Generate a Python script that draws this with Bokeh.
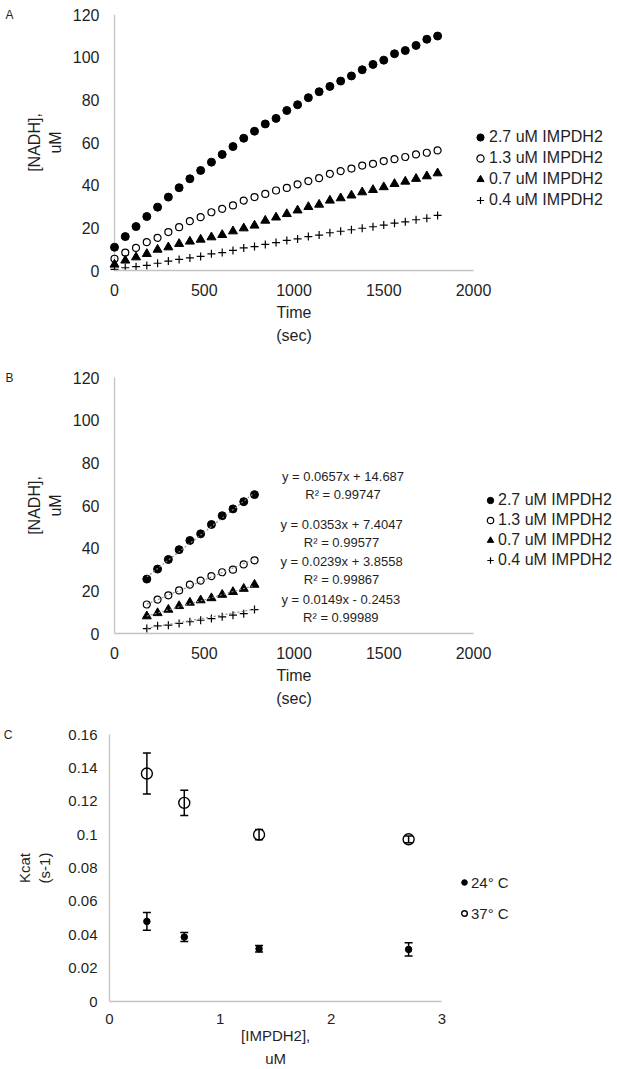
from bokeh.plotting import figure
from bokeh.models import (ColumnDataSource, FixedTicker, Legend, LegendItem, LinearAxis,
                          Whisker, TeeHead, Range1d, Span)
from bokeh.embed import file_html
from bokeh.resources import INLINE
from bokeh.core.properties import value

# ---------------- data ----------------
series_labels = ["2.7 uM IMPDH2", "1.3 uM IMPDH2", "0.7 uM IMPDH2", "0.4 uM IMPDH2"]

# Panel A: full time course (sec)
time_a = [0, 60, 120, 180, 240, 300, 360, 420, 480, 540, 600, 660, 720, 780, 840, 900,
          960, 1020, 1080, 1140, 1200, 1260, 1320, 1380, 1440, 1500, 1560, 1620, 1680, 1740, 1800]
nadh_27_a = [10.9, 15.9, 20.6, 25.3, 29.7, 34.4, 38.8, 43.0, 46.9, 50.8, 54.4, 58.1, 62.0, 65.3, 68.7, 71.3,
             75.0, 77.7, 81.0, 83.8, 86.3, 88.8, 91.2, 94.1, 96.6, 98.6, 101.6, 103.1, 105.5, 108.4, 109.9]
nadh_13_a = [5.5, 8.4, 10.6, 13.3, 15.3, 18.0, 20.3, 23.1, 25.0, 27.3, 28.9, 30.5, 32.8, 34.4, 35.9, 37.5,
             38.7, 40.4, 41.9, 43.3, 45.3, 46.6, 47.8, 49.2, 50.0, 51.3, 52.2, 53.2, 54.4, 55.2, 56.3]
nadh_07_a = [2.8, 4.7, 6.2, 7.8, 9.8, 10.9, 12.5, 13.6, 14.5, 15.6, 16.7, 18.4, 19.8, 21.1, 23.4, 24.9,
             26.5, 28.2, 29.8, 30.9, 32.8, 33.9, 35.2, 36.7, 37.8, 39.1, 40.6, 41.7, 43.0, 44.2, 45.6]
nadh_04_a = [0.5, 1.3, 1.8, 2.4, 3.4, 4.4, 5.2, 5.9, 6.6, 7.8, 8.4, 9.4, 10.6, 11.2, 12.2, 13.1,
             14.1, 14.8, 15.9, 16.6, 17.7, 18.4, 19.1, 19.8, 20.5, 21.3, 22.2, 22.8, 23.8, 24.5, 25.8]

# Panel B: linear window (sec)
time_b = [180, 240, 300, 360, 420, 480, 540, 600, 660, 720, 780]
nadh_27_b = [25.5, 30.2, 34.7, 39.3, 43.6, 46.7, 51.1, 55.2, 58.4, 61.8, 65.1]
nadh_13_b = [13.6, 15.9, 17.9, 20.2, 22.9, 24.8, 26.9, 28.7, 29.9, 32.4, 34.3]
nadh_07_b = [8.1, 9.6, 11.2, 12.9, 14.5, 15.6, 16.6, 18.2, 19.5, 21.0, 22.9]
nadh_04_b = [2.3, 3.6, 3.9, 4.7, 5.5, 6.2, 7.0, 7.8, 8.6, 9.3, 11.2]
fit_slope = [0.0657, 0.0353, 0.0239, 0.0149]
fit_intercept = [14.687, 7.4047, 3.8558, -0.2453]
fit_r2 = ["0.99747", "0.99577", "0.99867", "0.99989"]

# Panel C: kcat vs enzyme concentration
conc_c = [0.3375, 0.675, 1.35, 2.7]
kcat_24 = [0.0480, 0.0386, 0.0316, 0.0312]
err_24 = [0.0053, 0.0027, 0.0020, 0.0040]
kcat_37 = [0.1366, 0.1190, 0.1000, 0.0972]
err_37 = [0.0123, 0.0076, 0.0030, 0.0020]
temp_labels = ["24° C", "37° C"]

# tick labels and axis titles
ticks_time = [0, 500, 1000, 1500, 2000]
ticklab_time = ["0", "500", "1000", "1500", "2000"]
ticks_nadh = [0, 20, 40, 60, 80, 100, 120]
ticklab_nadh = ["0", "20", "40", "60", "80", "100", "120"]
ticks_conc = [0, 1, 2, 3]
ticklab_conc = ["0", "1", "2", "3"]
ticks_kcat = [0, 0.02, 0.04, 0.06, 0.08, 0.1, 0.12, 0.14, 0.16]
ticklab_kcat = ["0", "0.02", "0.04", "0.06", "0.08", "0.1", "0.12", "0.14", "0.16"]
xtitle_time = ["Time", "(sec)"]
xtitle_conc = ["[IMPDH2],", "uM"]
panel_names = ["A", "B", "C"]

# ---------------- style / layout ----------------
FONT = "Liberation Sans"
TXT = "#1f1f1f"
AXC = "#c3c3c3"
W = 617

# page geometry (pixels) of each plot frame
A_X0, A_X2000, A_TOP, A_BOT = 114, 473, 14, 270
B_X0, B_X2000 = 114, 473
C_X0, C_X3 = 108, 441


def make_fig(height, left, top, bottom, xr, yr):
    p = figure(width=W, height=height, x_range=xr, y_range=yr,
               output_backend="svg", toolbar_location=None,
               min_border_left=left, min_border_right=0,
               min_border_top=top, min_border_bottom=bottom)
    p.xgrid.visible = False
    p.ygrid.visible = False
    p.outline_line_color = None
    return p


def plain(ax, fs, standoff):
    ax.axis_line_color = AXC
    ax.axis_line_width = 1.3
    ax.major_tick_line_color = None
    ax.minor_tick_line_color = None
    ax.major_tick_in = 0
    ax.major_tick_out = 0
    ax.minor_tick_in = 0
    ax.minor_tick_out = 0
    ax.major_label_text_font = FONT
    ax.major_label_text_font_size = fs
    ax.major_label_text_color = TXT
    ax.major_label_standoff = standoff


def style_axis(ax, ticks, labels, lab_standoff, fs="16px"):
    ax.ticker = FixedTicker(ticks=ticks)
    ax.major_label_overrides = {t: l for t, l in zip(ticks, labels)}
    plain(ax, fs, lab_standoff)


def y_title(ax, title, standoff, fs="16px"):
    ax.axis_label = title
    ax.axis_label_text_font = FONT
    ax.axis_label_text_font_size = fs
    ax.axis_label_text_font_style = "normal"
    ax.axis_label_text_color = TXT
    ax.axis_label_standoff = standoff


def text_axis(p, side, pos, txt, standoff, fs):
    ax = LinearAxis(ticker=FixedTicker(ticks=[pos]), major_label_overrides={pos: txt})
    plain(ax, fs, standoff)
    ax.axis_line_color = None
    p.add_layout(ax, side)


def add_series(p, xs, ys):
    r1 = p.scatter(xs, ys[0], marker="circle", size=8, fill_color="black", line_color="black")
    r2 = p.scatter(xs, ys[1], marker="circle", size=7, fill_color=None, line_color="black", line_width=1.2)
    r3 = p.scatter(xs, ys[2], marker="triangle", size=9, fill_color="black", line_color="black")
    r4 = p.scatter(xs, ys[3], marker="cross", size=8, line_color="black", line_width=1.2)
    return [r1, r2, r3, r4]


def add_legend(p, renderers, labels, loc, spacing, gw, fs="16px"):
    leg = Legend(items=[LegendItem(label=l, renderers=[r]) for l, r in zip(labels, renderers)],
                 location=loc, orientation="vertical",
                 glyph_width=gw, glyph_height=18, label_height=18, spacing=spacing,
                 label_standoff=0, padding=0, margin=0,
                 border_line_color=None, background_fill_alpha=0,
                 label_text_font=FONT, label_text_font_size=fs, label_text_color=TXT)
    p.add_layout(leg, "center")
    return leg


# ---------------- panel A ----------------
sa = (A_X2000 - A_X0) / ticks_time[-1]          # px per second
a_left = A_X0 - 8
pa = make_fig(356, a_left, A_TOP, 356 - A_BOT,
              Range1d(-(A_X0 - a_left) / sa, (W - A_X0) / sa), Range1d(0, 120))
style_axis(pa.xaxis[0], ticks_time, ticklab_time, 13)
pa.xaxis[0].bounds = (ticks_time[0], ticks_time[-1])
style_axis(pa.yaxis[0], ticks_nadh, ticklab_nadh, 7)
y_title(pa.yaxis[0], "[NADH],\nuM", 6)
pa.yaxis[0].axis_line_color = None
pa.add_layout(Span(location=0, dimension="height", line_color=AXC, line_width=1.3, level="underlay"))
rA = add_series(pa, time_a, [nadh_27_a, nadh_13_a, nadh_07_a, nadh_04_a])
add_legend(pa, rA, series_labels, (365, 61), 3, 18)
mid_t = (ticks_time[0] + ticks_time[-1]) / 2
text_axis(pa, "below", mid_t, xtitle_time[0], 5, "16px")
text_axis(pa, "below", mid_t, xtitle_time[1], 3, "16px")
text_axis(pa, "left", ticks_nadh[-1], panel_names[0], 10, "12px")

# ---------------- panel B ----------------
sb = (B_X2000 - B_X0) / ticks_time[-1]
pb = make_fig(356, B_X0, 21, 79, Range1d(0, (W - B_X0) / sb), Range1d(0, 120))
style_axis(pb.xaxis[0], ticks_time, ticklab_time, 13)
pb.xaxis[0].bounds = (ticks_time[0], ticks_time[-1])
style_axis(pb.yaxis[0], ticks_nadh, ticklab_nadh, 15)
y_title(pb.yaxis[0], "[NADH],\nuM", 6)
rB = add_series(pb, time_b, [nadh_27_b, nadh_13_b, nadh_07_b, nadh_04_b])
fit_x0, fit_x1 = min(time_b), max(time_b)
pb.multi_line(xs=[[fit_x0, fit_x1] for _ in fit_slope],
              ys=[[s * fit_x0 + b, s * fit_x1 + b] for s, b in zip(fit_slope, fit_intercept)],
              line_color="#8a8a8a", line_width=1.1, line_dash="2 2")
eq_text = ["y = %sx %s %s\nR² = %s" % (s, "+" if b >= 0 else "-", abs(b), r)
           for s, b, r in zip(fit_slope, fit_intercept, fit_r2)]
eq_x = [1273, 1265, 1265, 1261]
eq_y = [69.4, 47.1, 29.6, 11.6]
pb.text(x=eq_x, y=eq_y, text=eq_text, text_font=value(FONT), text_font_size="13px",
        text_color=TXT, text_align="center", text_baseline="middle", text_line_height=1.2)
add_legend(pb, rB, series_labels, (368, 64), 2, 16)
text_axis(pb, "below", mid_t, xtitle_time[0], 5, "16px")
text_axis(pb, "below", mid_t, xtitle_time[1], 3, "16px")
text_axis(pb, "left", ticks_nadh[-1], panel_names[1], 10, "12px")

# ---------------- panel C ----------------
sc = (C_X3 - C_X0) / ticks_conc[-1]
pc = make_fig(357, C_X0, 22, 68, Range1d(0, (W - C_X0) / sc), Range1d(0, 0.16))
style_axis(pc.xaxis[0], ticks_conc, ticklab_conc, 12, fs="15px")
pc.xaxis[0].bounds = (ticks_conc[0], ticks_conc[-1])
style_axis(pc.yaxis[0], ticks_kcat, ticklab_kcat, 12, fs="15px")
y_title(pc.yaxis[0], "Kcat\n(s-1)", 12, fs="15px")
src24 = ColumnDataSource(dict(x=conc_c, y=kcat_24,
                              lo=[v - e for v, e in zip(kcat_24, err_24)],
                              hi=[v + e for v, e in zip(kcat_24, err_24)]))
src37 = ColumnDataSource(dict(x=conc_c, y=kcat_37,
                              lo=[v - e for v, e in zip(kcat_37, err_37)],
                              hi=[v + e for v, e in zip(kcat_37, err_37)]))
for src in (src24, src37):
    pc.add_layout(Whisker(source=src, base="x", upper="hi", lower="lo",
                          line_color="black", line_width=1.5,
                          upper_head=TeeHead(size=8, line_color="black", line_width=1.5),
                          lower_head=TeeHead(size=8, line_color="black", line_width=1.5)))
r24 = pc.scatter("x", "y", source=src24, marker="circle", size=6.5, fill_color="black", line_color="black")
r37 = pc.scatter("x", "y", source=src37, marker="circle", size=11, fill_color=None,
                 line_color="black", line_width=1.4)
add_legend(pc, [r24, r37], temp_labels, (348, 79), 13, 14, fs="15px")
mid_c = (ticks_conc[0] + ticks_conc[-1]) / 2
text_axis(pc, "below", mid_c, xtitle_conc[0], 0, "15px")
text_axis(pc, "below", mid_c, xtitle_conc[1], 3, "15px")
text_axis(pc, "left", ticks_kcat[-1], panel_names[2], 0, "12px")

open("out.html", "w").write(file_html([pa, pb, pc], INLINE))
